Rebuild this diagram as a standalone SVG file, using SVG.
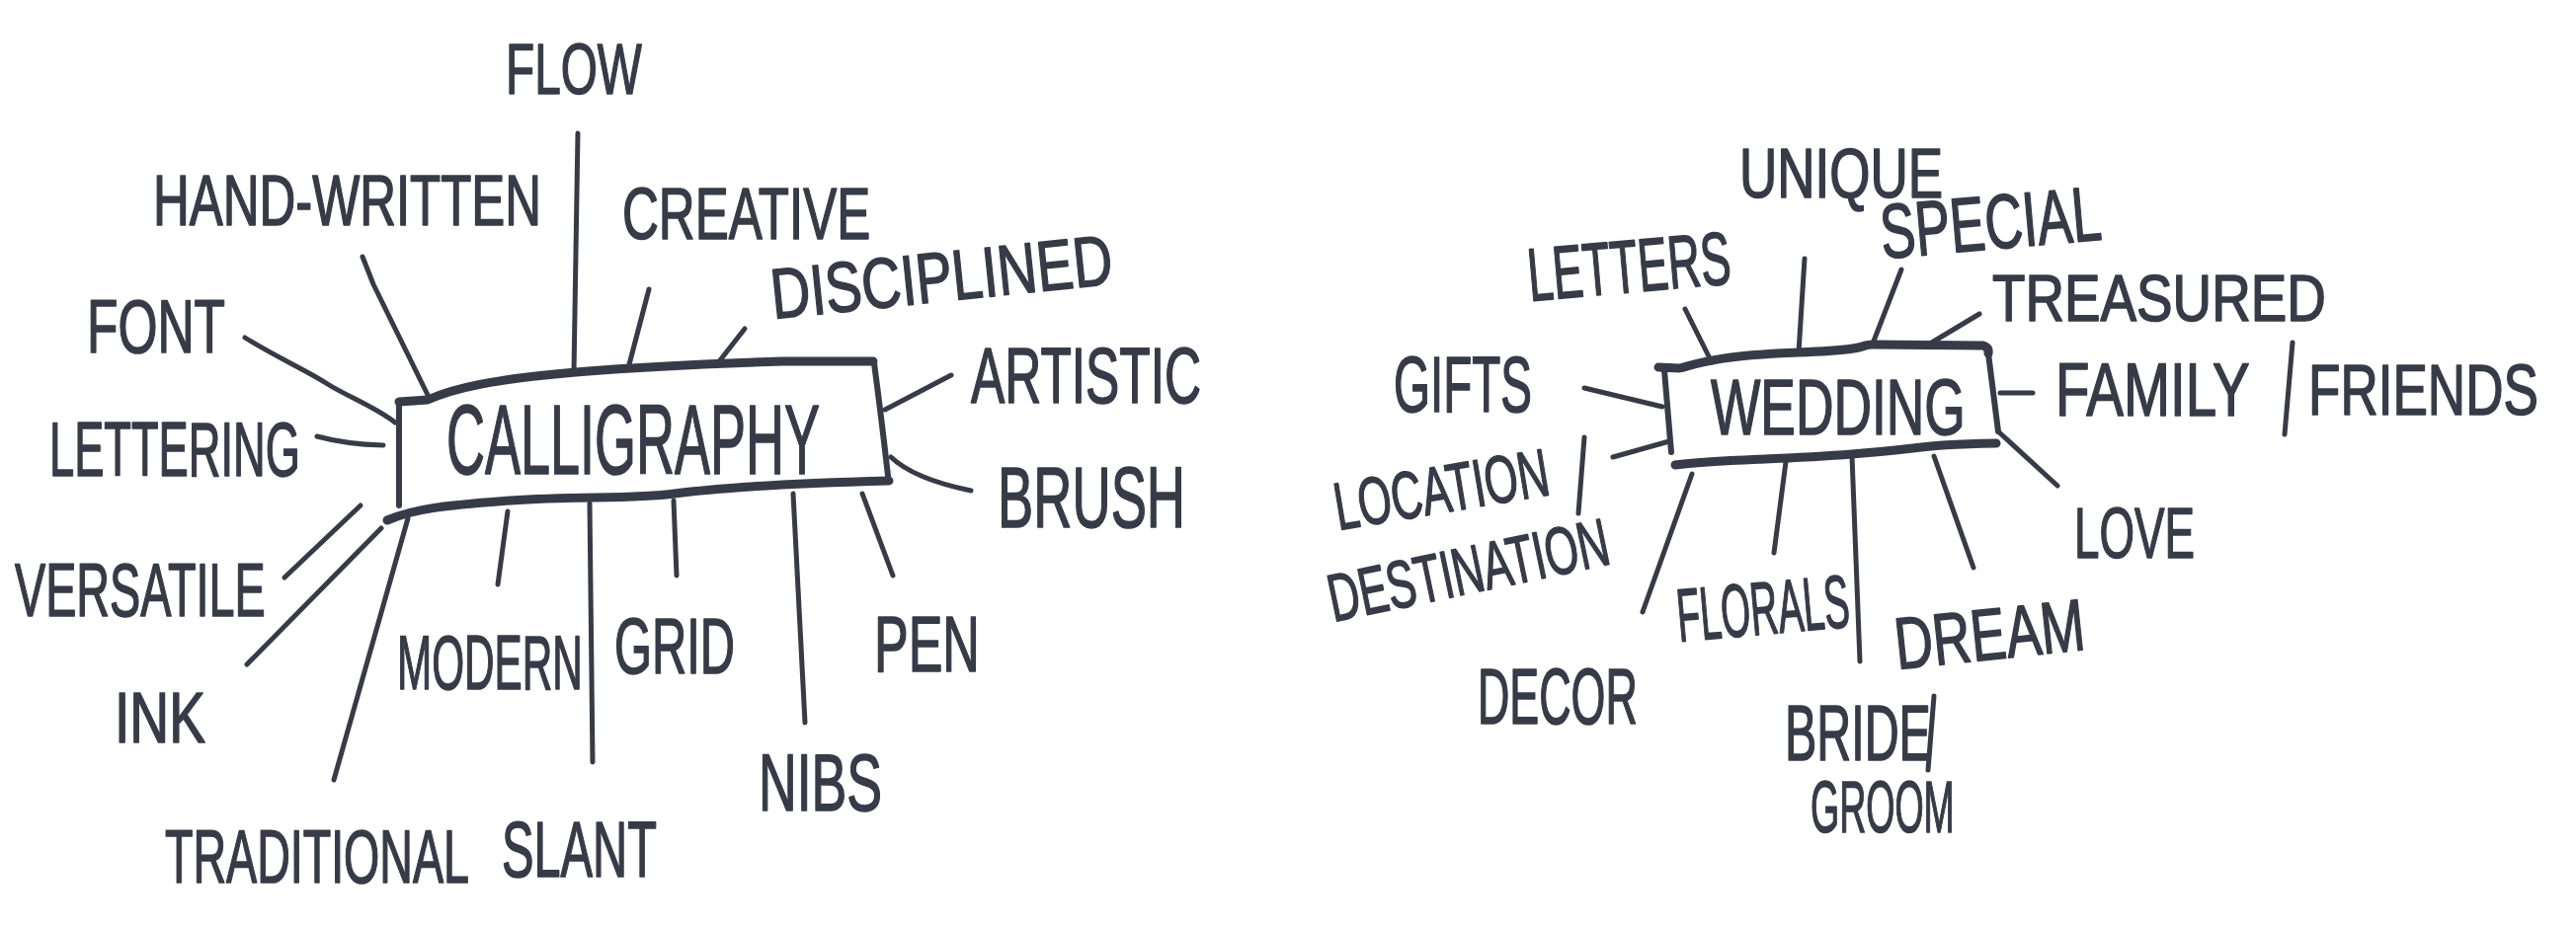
<svg xmlns="http://www.w3.org/2000/svg" width="2608" height="939" viewBox="0 0 2608 939">
<style>
.t{font-family:"Liberation Sans","DejaVu Sans",sans-serif;fill:#363b47;stroke:#363b47;stroke-width:1.6;stroke-linejoin:round}
.c{fill:none;stroke:#363b47;stroke-width:5;stroke-linecap:round;stroke-linejoin:round}
.bt{fill:none;stroke:#363b47;stroke-width:9;stroke-linecap:round;stroke-linejoin:round}
.bs{fill:none;stroke:#363b47;stroke-width:6;stroke-linecap:round}
</style>
<rect width="2608" height="939" fill="#ffffff"/>

<g id="connectors">
<path class="c" d="M585 135 L581 378"/>
<path class="c" d="M367 260 L378 288 L433 400"/>
<path class="c" d="M657 293 L636 373"/>
<path class="c" d="M754 333 L725 370"/>
<path class="c" d="M248 342 C280 362 310 375 330 388 S380 412 400 428"/>
<path class="c" d="M321 442 Q350 450 388 451"/>
<path class="c" d="M963 380 L896 415"/>
<path class="c" d="M902 463 Q925 485 983 497"/>
<path class="c" d="M288 585 L365 512"/>
<path class="c" d="M250 673 L386 535"/>
<path class="c" d="M338 790 L413 525"/>
<path class="c" d="M504 592 L514 518"/>
<path class="c" d="M597 510 L600 772"/>
<path class="c" d="M685 583 L682 507"/>
<path class="c" d="M815 732 L803 500"/>
<path class="c" d="M904 583 L873 500"/>

<path class="c" d="M1706 313 L1733 367"/>
<path class="c" d="M1827 262 L1821 357"/>
<path class="c" d="M1925 273 L1896 348"/>
<path class="c" d="M2004 318 L1954 348"/>
<path class="c" d="M1604 393 L1683 412"/>
<path class="c" d="M2025 398 L2058 398"/>
<path class="c" d="M2023 437 L2083 492"/>
<path class="c" d="M1633 463 L1690 447"/>
<path class="c" d="M1663 620 L1713 480"/>
<path class="c" d="M1796 560 L1808 468"/>
<path class="c" d="M1875 462 L1883 670"/>
<path class="c" d="M1958 462 L1998 575"/>
</g>

<g id="calligraphy">
<path class="bt" d="M404 407 L433 405 C460 393 500 384 583 377 S760 367 792 366 L884 366"/>
<path class="bs" d="M404 412 L404 512"/>
<path class="bs" d="M885 368 Q892 420 899 482"/>
<path class="bt" d="M392 527 C420 515 450 512 517 507 S640 506 683 500 S790 490 900 487"/>
<text class="t" font-size="100" transform="translate(452 480) scale(0.54 1)">CALLIGRAPHY</text>
</g>

<g id="flow"><text class="t" font-size="72" transform="translate(512 95) scale(0.663 1)">FLOW</text></g>
<g id="hand-written"><text class="t" font-size="72" transform="translate(155 228) scale(0.707 1)">HAND-WRITTEN</text></g>
<g id="creative"><text class="t" font-size="74" transform="translate(630 242) scale(0.689 1)">CREATIVE</text></g>
<g id="disciplined"><text class="t" font-size="72" transform="translate(783 323) rotate(-5.9) scale(0.768 1)">DISCIPLINED</text></g>
<g id="font"><text class="t" font-size="76" transform="translate(88 357) scale(0.677 1)">FONT</text></g>
<g id="artistic"><text class="t" font-size="80" transform="translate(983 408) scale(0.642 1)">ARTISTIC</text></g>
<g id="lettering"><text class="t" font-size="78" transform="translate(50 482) scale(0.58 1)">LETTERING</text></g>
<g id="brush"><text class="t" font-size="88" transform="translate(1010 534) scale(0.617 1)">BRUSH</text></g>
<g id="versatile"><text class="t" font-size="76" transform="translate(15 624) scale(0.615 1)">VERSATILE</text></g>
<g id="ink"><text class="t" font-size="72" transform="translate(116 752) scale(0.767 1)">INK</text></g>
<g id="modern"><text class="t" font-size="78" transform="translate(402 698) scale(0.542 1)">MODERN</text></g>
<g id="grid"><text class="t" font-size="80" transform="translate(622 682) scale(0.61 1)">GRID</text></g>
<g id="pen"><text class="t" font-size="80" transform="translate(885 680) scale(0.65 1)">PEN</text></g>
<g id="nibs"><text class="t" font-size="82" transform="translate(768 821) scale(0.653 1)">NIBS</text></g>
<g id="traditional"><text class="t" font-size="76" transform="translate(167 894) scale(0.613 1)">TRADITIONAL</text></g>
<g id="slant"><text class="t" font-size="80" transform="translate(508 888) scale(0.609 1)">SLANT</text></g>

<g id="wedding">
<path class="bt" d="M1679 372 L1700 373 C1720 368 1740 360 1821 357 S1880 349 1896 349 L2008 350 Q2014 352 2013 358"/>
<path class="bs" d="M1685 375 L1692 458"/>
<path class="bs" d="M2013 358 L2023 437"/>
<path class="bt" d="M1696 471 C1740 465 1800 466 1875 460 S1950 450 2021 449"/>
<text class="t" font-size="80" transform="translate(1732 440) scale(0.667 1)">WEDDING</text>
</g>

<g id="unique"><text class="t" font-size="70" transform="translate(1761 200) scale(0.757 1)">UNIQUE</text></g>
<g id="letters"><text class="t" font-size="76" transform="translate(1549 305) rotate(-5) scale(0.602 1)">LETTERS</text></g>
<g id="special"><text class="t" font-size="78" transform="translate(1906 262) rotate(-5) scale(0.68 1)">SPECIAL</text></g>
<g id="treasured"><text class="t" font-size="66" transform="translate(2017 325) scale(0.83 1)">TREASURED</text></g>
<g id="gifts"><text class="t" font-size="80" transform="translate(1411 417) scale(0.594 1)">GIFTS</text></g>
<g id="family-friends">
<text class="t" font-size="76" transform="translate(2081 421) scale(0.743 1)">FAMILY</text>
<path class="c" d="M2321 347 L2313 440"/>
<text class="t" font-size="72" transform="translate(2337 420) scale(0.737 1)">FRIENDS</text>
</g>
<g id="location-destination">
<text class="t" font-size="68" transform="translate(1355 537) rotate(-9.5) scale(0.64 1)">LOCATION</text>
<path class="c" d="M1604 443 L1598 520"/>
<text class="t" font-size="68" transform="translate(1350 630) rotate(-11.8) scale(0.639 1)">DESTINATION</text>
</g>
<g id="decor"><text class="t" font-size="80" transform="translate(1496 733) scale(0.56 1)">DECOR</text></g>
<g id="florals"><text class="t" font-size="76" transform="translate(1700 650) rotate(-5) scale(0.505 1)">FLORALS</text></g>
<g id="dream"><text class="t" font-size="74" transform="translate(1921 678) rotate(-6) scale(0.722 1)">DREAM</text></g>
<g id="love"><text class="t" font-size="72" transform="translate(2100 565) scale(0.635 1)">LOVE</text></g>
<g id="bride-groom">
<text class="t" font-size="80" transform="translate(1807 770) scale(0.605 1)">BRIDE</text>
<path class="c" d="M1958 705 L1952 780"/>
<text class="t" font-size="74" transform="translate(1833 843) scale(0.507 1)">GROOM</text>
</g>
</svg>
